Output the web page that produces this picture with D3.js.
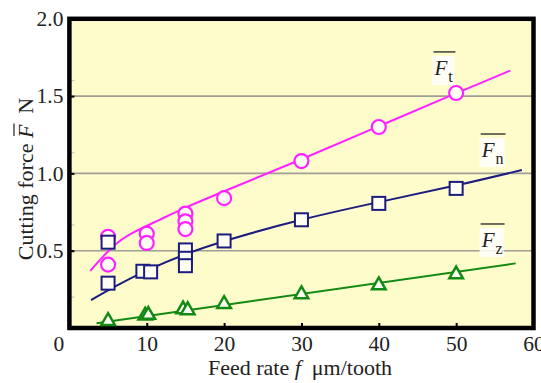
<!DOCTYPE html>
<html><head><meta charset="utf-8">
<script src="https://cdn.jsdelivr.net/npm/d3@7"></script>
<style>body{margin:0;background:#fff}svg{display:block}
svg text{font-family:"Liberation Serif","DejaVu Serif","Times New Roman",serif;}
</style>
</head><body><svg id="c" width="541" height="383"></svg>
<script>
// ---- data ----
const xTicks = [0,10,20,30,40,50,60];
const yTicks = [0.5,1.0,1.5,2.0];
const yMinor = [0.2,0.667,1.133,1.6];

const ftFeed = [5,5,10,10,15,15,15,20,30,40,50];
const ftVal  = [0.59,0.41,0.61,0.55,0.74,0.69,0.64,0.84,1.08,1.30,1.52];
const fnFeed = [5,5,9.5,10.5,15,15,15,20,30,40,50];
const fnVal  = [0.555,0.29,0.367,0.363,0.505,0.451,0.403,0.563,0.70,0.806,0.903];
const fzFeed = [5,9.8,10.2,14.7,15.3,20,30,40,50];
const fzVal  = [0.045,0.08,0.085,0.12,0.115,0.155,0.218,0.276,0.347];

const ftFitX = [2.7,5.7,8,11.7,14.3,20,30,40,50,57];
const ftFitY = [0.37,0.54,0.615,0.70,0.765,0.885,1.09,1.305,1.52,1.665];
const fnFitX = [2.8,5.7,10,15,20,30,40,50,58.5];
const fnFitY = [0.18,0.265,0.375,0.48,0.565,0.705,0.815,0.92,1.022];
const fzFitX = [3.5,57.7];
const fzFitY = [0.03,0.418];

const labelSubs = ['t','n','z'];
const labelPos  = [[47.2,1.637],[53.3,1.106],[53.3,0.524]];

// ---- chart ----
const svg = d3.select('#c');
const L=69.4, R=533.5, T=18.8, B=328;
const x = d3.scaleLinear().domain([0,60]).range([L,R]);
const y = d3.scaleLinear().domain([0,2]).range([B,T]);
const FS = 21.5;

svg.append('rect').attr('x',L).attr('y',T).attr('width',R-L).attr('height',B-T).attr('fill','#fffccc');

svg.append('g').selectAll('line').data(yTicks.filter(d=>d<2)).join('line')
  .attr('x1',L).attr('x2',R).attr('y1',d=>y(d)).attr('y2',d=>y(d))
  .attr('stroke','#a09e96').attr('stroke-width',1.6);
svg.append('g').selectAll('line').data(yMinor).join('line')
  .attr('x1',L).attr('x2',L+5).attr('y1',d=>y(d)).attr('y2',d=>y(d))
  .attr('stroke','#bbb').attr('stroke-width',1);

const yAxis = d3.axisLeft(y).tickValues(yTicks).tickFormat(d3.format('.1f')).tickSizeInner(-5).tickSizeOuter(0).tickPadding(6);
const gy = svg.append('g').attr('transform',`translate(${L},0)`).call(yAxis);
const xAxis = d3.axisBottom(x).tickValues(xTicks).tickFormat(d3.format('d')).tickSizeInner(-5).tickSizeOuter(0).tickPadding(8);
const gx = svg.append('g').attr('transform',`translate(0,${B})`).call(xAxis);
[gx,gy].forEach(g=>{
  g.attr('font-family',null).attr('font-size',null);
  g.select('.domain').remove();
  g.selectAll('.tick line').attr('stroke','#000').attr('stroke-width',2);
  g.selectAll('.tick text').style('font-size',FS+'px').attr('fill','#222');
});
gx.selectAll('.tick').filter(d=>d===0||d===60).select('line').remove();
gx.selectAll('.tick').filter(d=>d===0).select('text').attr('dx',-11);
gy.selectAll('.tick').filter(d=>d===2).select('line').remove();

svg.append('rect').attr('x',L).attr('y',T).attr('width',R-L).attr('height',B-T)
  .attr('fill','none').attr('stroke','#000').attr('stroke-width',4.5);

const series = [
  {fx:ftFitX, fy:ftFitY, px:ftFeed, py:ftVal, color:'#ff22ff', sym:'circle'},
  {fx:fnFitX, fy:fnFitY, px:fnFeed, py:fnVal, color:'#1c1c80', sym:'square'},
  {fx:fzFitX, fy:fzFitY, px:fzFeed, py:fzVal, color:'#138a13', sym:'triangle'},
];
const line = d3.line().x(d=>x(d[0])).y(d=>y(d[1])).curve(d3.curveBasis);
series.forEach(s=>{
  svg.append('path').datum(d3.zip(s.fx,s.fy)).attr('d',line)
    .attr('fill','none').attr('stroke',s.color).attr('stroke-width',2);
});
series.forEach(s=>{
  const pts = d3.zip(s.px,s.py);
  const g = svg.append('g');
  if(s.sym==='circle'){
    g.selectAll('circle').data(pts).join('circle').attr('cx',d=>x(d[0])).attr('cy',d=>y(d[1])).attr('r',7)
      .attr('fill','#fffff4').attr('stroke',s.color).attr('stroke-width',2.2);
  } else if(s.sym==='square'){
    g.selectAll('rect').data(pts).join('rect').attr('x',d=>x(d[0])-6.5).attr('y',d=>y(d[1])-6.5)
      .attr('width',13).attr('height',13).attr('fill','#fffff4').attr('stroke',s.color).attr('stroke-width',2);
  } else {
    const tri = d3.symbol(d3.symbolTriangle, 80);
    g.selectAll('path').data(pts).join('path').attr('transform',d=>`translate(${x(d[0])},${y(d[1])})`)
      .attr('d',tri).attr('fill','#fffff4').attr('stroke',s.color).attr('stroke-width',2.5);
  }
});

labelSubs.forEach((sub,i)=>{
  const bx = x(labelPos[i][0]), by = y(labelPos[i][1]);
  const g = svg.append('g');
  const bg = g.append('rect').attr('fill','#ffffff').attr('opacity',0.85);
  const t = g.append('text').attr('x',bx).attr('y',by).style('font-size','21px').attr('fill','#222');
  t.append('tspan').attr('font-style','italic').text('F');
  t.append('tspan').style('font-size','16px').attr('dy',7).attr('dx',1).text(sub);
  const bb = t.node().getBBox();
  bg.attr('x',bb.x-1).attr('y',by-19).attr('width',bb.width+2).attr('height',29);
  g.append('line').attr('x1',bx-1).attr('x2',bb.x+bb.width+2).attr('y1',by-23).attr('y2',by-23)
    .attr('stroke','#222').attr('stroke-width',1.3);
});

svg.append('text').attr('x',300).attr('y',375).attr('text-anchor','middle')
  .style('font-size','22px').attr('fill','#222')
  .call(t=>{t.append('tspan').text('Feed rate ');t.append('tspan').attr('font-style','italic').text('f');t.append('tspan').text('\u00a0 μm/tooth');});

const yt = svg.append('text').attr('transform','translate(33,179) rotate(-90)').attr('text-anchor','middle')
  .style('font-size','22px').attr('fill','#222');
yt.append('tspan').text('Cutting force ');
yt.append('tspan').attr('font-style','italic').text('F');
yt.append('tspan').text('\u00a0 N');
const ext = yt.node().getExtentOfChar(14);
svg.append('line').attr('transform','translate(33,179) rotate(-90)')
  .attr('x1',ext.x+2).attr('x2',ext.x+ext.width+1).attr('y1',ext.y+1).attr('y2',ext.y+1)
  .attr('stroke','#222').attr('stroke-width',1.2);
</script></body></html>
